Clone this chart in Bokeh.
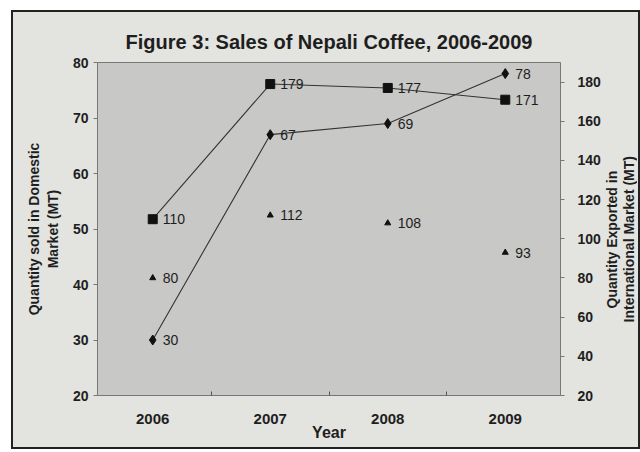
from bokeh.plotting import figure
from bokeh.layouts import row
from bokeh.models import Range1d, LinearAxis, FixedTicker, Div
from bokeh.core.properties import value
from bokeh.embed import file_html
from bokeh.resources import INLINE

years = [2006, 2007, 2008, 2009]
year_labels = ["2006", "2007", "2008", "2009"]
domestic = [30, 67, 69, 78]          # diamonds, left axis
total = [110, 179, 177, 171]         # squares, right axis
exported = [80, 112, 108, 93]        # triangles, right axis
left_ticks = [20, 30, 40, 50, 60, 70, 80]
right_ticks = [20, 40, 60, 80, 100, 120, 140, 160, 180]
RIGHT_TITLE_LINES = ["Quantity Exported in", "International Market (MT)"]

FONT = "Liberation Sans"
INK = "#1e1e1e"
BG = "#e3e3df"
X0, X1 = 2005.53, 2009.47

p = figure(width=590, height=435, output_backend="svg", toolbar_location=None,
           x_range=Range1d(X0, X1), y_range=Range1d(20, 80),
           min_border_left=84, min_border_right=40, min_border_top=50,
           min_border_bottom=52, margin=0)
p.border_fill_color = BG
p.background_fill_color = "#c8c8c6"
p.outline_line_color = "#777777"
p.outline_line_width = 1
p.grid.visible = False

p.title.text = "Figure 3: Sales of Nepali Coffee, 2006-2009"
p.title.align = "center"
p.title.text_font = FONT
p.title.text_font_size = "20px"
p.title.text_font_style = "bold"
p.title.text_color = INK
p.title.standoff = 19

p.extra_y_ranges = {"right": Range1d(20, 190)}

# x axis
xa = p.xaxis[0]
xa.ticker = FixedTicker(ticks=years, minor_ticks=[2006.5, 2007.5, 2008.5])
xa.major_label_overrides = {y: l for y, l in zip(years, year_labels)}
xa.major_tick_out = 0
xa.major_tick_in = 0
xa.minor_tick_out = 0
xa.minor_tick_in = 4
xa.minor_tick_line_color = "#555"
xa.axis_line_color = None
xa.major_label_standoff = 18
xa.axis_label = "Year"
xa.axis_label_standoff = -3

# left axis
ya = p.yaxis[0]
ya.ticker = FixedTicker(ticks=left_ticks)
ya.axis_label = "Quantity sold in Domestic\nMarket (MT)"
ya.axis_line_color = None
ya.major_tick_out = 4
ya.major_tick_in = 0
ya.major_tick_line_color = "#777"
ya.minor_tick_line_color = None
ya.major_label_standoff = 5
ya.axis_label_standoff = 9

ra = LinearAxis(y_range_name="right", ticker=FixedTicker(ticks=right_ticks))
ra.axis_line_color = None
ra.major_tick_out = 4
ra.major_tick_in = 0
ra.major_tick_line_color = "#777"
ra.minor_tick_line_color = None
ra.major_label_standoff = 13
p.add_layout(ra, "right")

for ax in [xa, ya, ra]:
    ax.major_label_text_font = FONT
    ax.major_label_text_font_size = "14px"
    ax.major_label_text_font_style = "bold"
    ax.major_label_text_color = INK
    ax.axis_label_text_font = FONT
    ax.axis_label_text_font_size = "14px"
    ax.axis_label_text_font_style = "bold"
    ax.axis_label_text_color = INK
xa.major_label_text_font_size = "15px"
xa.axis_label_text_font_size = "16px"

# series
p.line(years, total, y_range_name="right", line_color="#333", line_width=1.1)
p.scatter(years, total, y_range_name="right", marker="square", size=9,
          color="#111")
p.line(years, domestic, line_color="#333", line_width=1.1)
p.scatter(years, domestic, marker="diamond", size=10, color="#111")
p.scatter(years, exported, y_range_name="right", marker="triangle", size=6,
          color="#111")

lab = dict(x_offset=10, text_baseline="middle", text_font=value(FONT),
           text_font_size="14px", text_color=INK)
p.text(years, total, text=[str(v) for v in total], y_range_name="right", **lab)
p.text(years, domestic, text=[str(v) for v in domestic], **lab)
p.text(years, exported, text=[str(v) for v in exported], y_range_name="right", **lab)

# right-hand axis title, reading bottom-to-top
html = ('<div style="box-sizing:border-box;height:435px;width:35px;padding-top:20px;'
        'display:flex;align-items:center;justify-content:center;">'
        '<div style="writing-mode:vertical-rl;transform:rotate(180deg);'
        "font-family:'Liberation Sans';font-weight:bold;font-size:14px;"
        'line-height:17px;color:%s;text-align:center;white-space:nowrap;">'
        '%s</div></div>') % (INK, "<br>".join(RIGHT_TITLE_LINES))
div = Div(width=35, height=435, margin=0, text=html,
          styles={"background-color": BG})

layout = row(p, div, spacing=0,
             styles={"border": "2px solid #222", "box-sizing": "content-box",
                     "margin-left": "11px", "margin-top": "10px",
                     "background-color": BG})

open("out.html", "w").write(file_html(layout, INLINE))
